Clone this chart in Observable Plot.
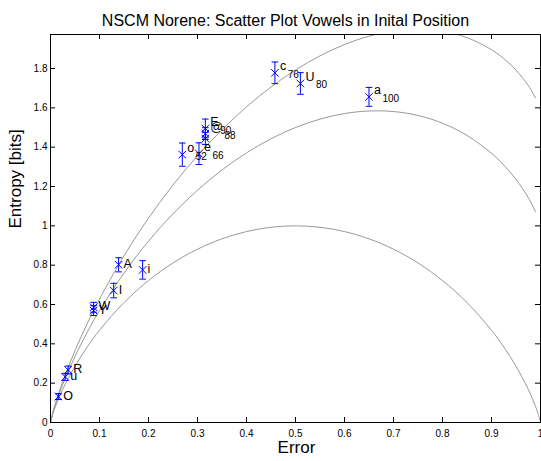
<!DOCTYPE html>
<html><head><meta charset="utf-8">
<script src="https://cdn.jsdelivr.net/npm/d3@7"></script>
<script src="https://cdn.jsdelivr.net/npm/@observablehq/plot@0.6"></script>
<style>body{margin:0;background:#fff} svg{display:block}</style>
</head><body><div id="chart"></div>
<script>
// Vowel points (error rate vs entropy with error bars)
const vowels     = ["O", "u", "R", "Y", "W", "I", "A", "i", "o", "e", "E", "@", "", "c", "U", "a"];
const subscripts = ["", "", "", "", "", "", "", "", "52", "66", "90", "88", "", "76", "80", "100"];
const errorRate  = [0.016, 0.030, 0.036, 0.088, 0.088, 0.129, 0.139, 0.188, 0.269, 0.303, 0.316, 0.316, 0.316, 0.458, 0.510, 0.650];
const entropy    = [0.132, 0.232, 0.267, 0.569, 0.586, 0.671, 0.802, 0.776, 1.362, 1.367, 1.495, 1.469, 1.444, 1.778, 1.724, 1.656];
const stdErr     = [0.015, 0.018, 0.020, 0.025, 0.025, 0.037, 0.036, 0.047, 0.059, 0.055, 0.048, 0.030, 0.030, 0.055, 0.055, 0.048];

// Bound curves
const curveErrLow = [0, 0.005, 0.01, 0.025, 0.05, 0.075, 0.1, 0.15, 0.2, 0.25, 0.3, 0.35, 0.4, 0.45, 0.5, 0.55, 0.6, 0.65, 0.7, 0.75, 0.8, 0.85, 0.9, 0.925, 0.95, 0.975, 0.99, 0.995, 0.999];
const curveEntLow = [0, 0.0454, 0.0808, 0.1687, 0.2864, 0.3843, 0.4690, 0.6098, 0.7219, 0.8113, 0.8813, 0.9341, 0.9710, 0.9928, 1.0, 0.9928, 0.9710, 0.9341, 0.8813, 0.8113, 0.7219, 0.6098, 0.4690, 0.3843, 0.2864, 0.1687, 0.0808, 0.0454, 0.0114];
const curveErr    = [0, 0.005, 0.01, 0.025, 0.05, 0.075, 0.1, 0.15, 0.2, 0.25, 0.3, 0.35, 0.4, 0.45, 0.5, 0.55, 0.6, 0.65, 0.7, 0.75, 0.8, 0.85, 0.9, 0.925, 0.95, 0.975, 0.99];
const curveEntMid = [0, 0.0504, 0.0908, 0.1937, 0.3364, 0.4593, 0.5690, 0.7598, 0.9219, 1.0613, 1.1813, 1.2841, 1.3710, 1.4428, 1.5, 1.5428, 1.5710, 1.5841, 1.5813, 1.5613, 1.5219, 1.4598, 1.3690, 1.3093, 1.2364, 1.1437, 1.0708];
const curveEntTop = [0, 0.0533, 0.0967, 0.2083, 0.3656, 0.5032, 0.6275, 0.8475, 1.0389, 1.2075, 1.3568, 1.4888, 1.6050, 1.7060, 1.7925, 1.8645, 1.9220, 1.9643, 1.9908, 2.0, 1.9899, 1.9570, 1.8955, 1.8504, 1.7921, 1.7140, 1.6500];

const xTicks = [0, 0.1, 0.2, 0.3, 0.4, 0.5, 0.6, 0.7, 0.8, 0.9, 1];
const yTicks = [0, 0.2, 0.4, 0.6, 0.8, 1, 1.2, 1.4, 1.6, 1.8];
const titleText = "NSCM Norene: Scatter Plot Vowels in Inital Position";
const xLabel = "Error";
const yLabel = "Entropy [bits]";

const points = vowels.map((v, i) => ({label: v, sub: subscripts[i], x: errorRate[i], y: entropy[i], e: stdErr[i]}));
const plain = points.filter(d => d.sub === "");
const withSub = points.filter(d => d.sub !== "");
const lineData = (xs, ys) => xs.map((x, i) => ({x, y: ys[i]}));

const blue = "#0000ff";
const capSymbol = {draw(ctx, size) { const r = Math.sqrt(size / Math.PI); ctx.moveTo(-r, 0); ctx.lineTo(r, 0); }};

const W = 541, H = 461, mL = 50, mR = 1, mT = 34, mB = 39;
const fw = W - mL - mR, fh = H - mT - mB;

const chart = Plot.plot({
  width: W, height: H,
  marginLeft: mL, marginRight: mR, marginTop: mT, marginBottom: mB,
  style: {fontFamily: "'Liberation Sans', Arial, Helvetica, sans-serif", fontSize: "10px", background: "#fff", color: "#000"},
  x: {domain: [0, 1]},
  y: {domain: [0, 1.973]},
  marks: [
    Plot.line(lineData(curveErrLow, curveEntLow), {x: "x", y: "y", stroke: "#999", strokeWidth: 1, curve: "catmull-rom", clip: true}),
    Plot.line(lineData(curveErr, curveEntMid), {x: "x", y: "y", stroke: "#999", strokeWidth: 1, curve: "catmull-rom", clip: true}),
    Plot.line(lineData(curveErr, curveEntTop), {x: "x", y: "y", stroke: "#999", strokeWidth: 1, curve: "catmull-rom", clip: true}),
    // error bars
    Plot.ruleX(points, {x: "x", y1: d => d.y - d.e, y2: d => d.y + d.e, stroke: blue, strokeWidth: 1}),
    Plot.dot(points, {x: "x", y: d => d.y + d.e, symbol: capSymbol, r: 3.3, stroke: blue, fill: "none", strokeWidth: 1}),
    Plot.dot(points, {x: "x", y: d => d.y - d.e, symbol: capSymbol, r: 3.3, stroke: blue, fill: "none", strokeWidth: 1}),
    Plot.dot(points, {x: "x", y: "y", symbol: "times", r: 3.5, stroke: blue, strokeWidth: 1}),
    // labels
    Plot.text(plain, {x: "x", y: "y", text: "label", dx: 5, dy: -1, textAnchor: "start", fontSize: 12.5, fill: "#000"}),
    Plot.text(withSub, {x: "x", y: "y", text: "label", dx: 5, dy: -6.5, textAnchor: "start", fontSize: 12.5, fill: "#000", ariaLabel: d => "sub-" + d.sub}),
    // frame and inward ticks
    Plot.frame({stroke: "#000", strokeWidth: 1}),
    Plot.tickX(xTicks, {x: d => d, insetTop: fh - 5, stroke: "#000"}),
    Plot.tickX(xTicks, {x: d => d, insetBottom: fh - 5, stroke: "#000"}),
    Plot.tickY(yTicks, {y: d => d, insetRight: fw - 5, stroke: "#000"}),
    Plot.tickY(yTicks, {y: d => d, insetLeft: fw - 5, stroke: "#000"}),
    Plot.axisX(xTicks, {tickSize: 0, tickPadding: 7, fontSize: 10, tickFormat: d => String(d), label: null}),
    Plot.axisY(yTicks, {tickSize: 0, tickPadding: 3, fontSize: 10, tickFormat: d => String(d), label: null}),
    // title and axis labels
    Plot.text([titleText], {frameAnchor: "top", dy: -19.5, dx: -10, fontSize: 16, fill: "#000"}),
    Plot.text([xLabel], {frameAnchor: "bottom", dy: 30.5, dx: 1, fontSize: 17, fill: "#000"}),
    Plot.text([yLabel], {frameAnchor: "left", dx: -35, rotate: -90, fontSize: 17, fill: "#000"})
  ]
});

// add subscripts as tspans
chart.querySelectorAll('text[aria-label^="sub-"]').forEach(t => {
  const sub = t.getAttribute("aria-label").slice(4);
  const ts = document.createElementNS("http://www.w3.org/2000/svg", "tspan");
  ts.setAttribute("dy", "7.5");
  ts.setAttribute("dx", "1.5");
  ts.setAttribute("font-size", "10");
  ts.textContent = sub;
  t.appendChild(ts);
});

document.getElementById("chart").appendChild(chart);
</script>
</body></html>
